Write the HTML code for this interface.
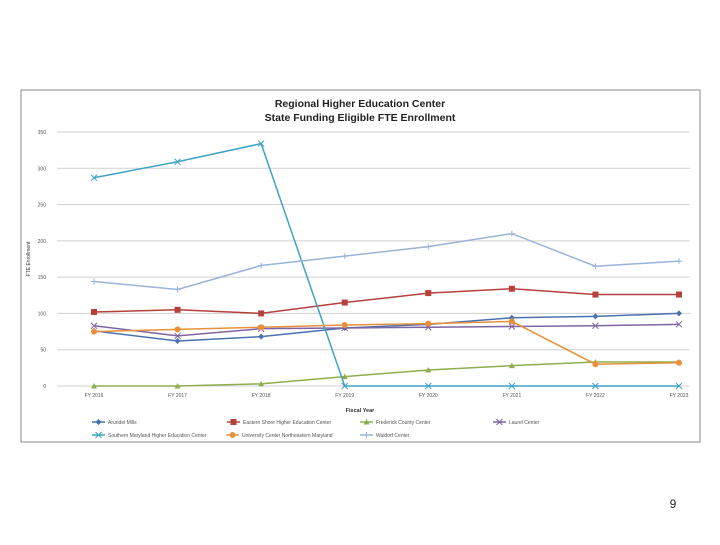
<!DOCTYPE html>
<html><head><meta charset="utf-8"><style>
body{margin:0;background:#fff;width:720px;height:540px;overflow:hidden;font-family:"Liberation Sans",sans-serif}
</style></head><body>
<svg width="720" height="540">
<rect x="21" y="90" width="679" height="352" fill="#fff" stroke="#888" stroke-width="1"/>
<text x="360" y="107" text-anchor="middle" font-size="10.5" font-weight="bold" fill="#222">Regional Higher Education Center</text>
<text x="360" y="121" text-anchor="middle" font-size="10.5" font-weight="bold" fill="#222">State Funding Eligible FTE Enrollment</text>
<text x="360" y="412" text-anchor="middle" font-size="5.5" font-weight="bold" fill="#333">Fiscal Year</text>
<text transform="translate(30,259) rotate(-90)" text-anchor="middle" font-size="5" fill="#333">FTE Enrollment</text>
<g id="grid"></g><g id="series"></g><g id="legend"></g>
<text x="673" y="508" text-anchor="middle" font-size="12" fill="#222">9</text>
</svg>
<script>
const categories=["FY 2016","FY 2017","FY 2018","FY 2019","FY 2020","FY 2021","FY 2022","FY 2023"];
const yTicks=[0,50,100,150,200,250,300,350];
const seriesNames=["Arundel Mills","Eastern Shore Higher Education Center","Frederick County Center","Laurel Center","Southern Maryland Higher Education Center","University Center Northeastern Maryland","Waldorf Center"];
const arundel=[76,62,68,80,85,94,96,100];
const easternShore=[102,105,100,115,128,134,126,126];
const frederick=[0,0,3,13,22,28,33,33];
const laurel=[83,69,79,80,81,82,83,85];
const southernMd=[287,309,334,0,0,0,0,0];
const ucnem=[75,78,81,84,86,89,30,32];
const waldorf=[144,133,166,179,192,210,165,172];
const colors=["#4a72b0","#b5403c","#8eae4e","#7e64a0","#3ea3c4","#e8913a","#98b4d8"];
const markers=["diamond","square","triangle","x","x","circle","plus"];
const data=[arundel,easternShore,frederick,laurel,southernMd,ucnem,waldorf];
const NS="http://www.w3.org/2000/svg";
const x=i=>94+i*(679-94)/(categories.length-1);
const y=v=>386-v*(386-132)/350;
function mk(tag,attrs,parent){const e=document.createElementNS(NS,tag);for(const k in attrs)e.setAttribute(k,attrs[k]);parent.appendChild(e);return e;}
const grid=document.getElementById('grid');
yTicks.forEach(t=>{
 const l=mk('line',{x1:57,x2:690,y1:y(t),y2:y(t),stroke:'#d0d0d0','stroke-width':1},grid);
 
 
 const tx=mk('text',{x:46,y:y(t)+2,'text-anchor':'end','font-size':5,fill:'#555'},grid);tx.textContent=t;
 
 
});
categories.forEach((c,i)=>{
 const tx=mk('text',{x:x(i),y:397,'text-anchor':'middle','font-size':5,fill:'#555'},grid);tx.textContent=c;
 
 
});
function marker(type,cx,cy,col,g){
 if(type==='diamond')return mk('path',{d:`M${cx} ${cy-3}L${cx+3} ${cy}L${cx} ${cy+3}L${cx-3} ${cy}Z`,fill:col},g);
 if(type==='square')return mk('rect',{x:cx-3,y:cy-3,width:6,height:6,fill:col},g);
 if(type==='triangle')return mk('path',{d:`M${cx} ${cy-3}L${cx+3} ${cy+2.5}L${cx-3} ${cy+2.5}Z`,fill:col},g);
 if(type==='circle')return mk('circle',{cx:cx,cy:cy,r:3,fill:col},g);
 if(type==='x')return mk('path',{d:`M${cx-3} ${cy-3}L${cx+3} ${cy+3}M${cx-3} ${cy+3}L${cx+3} ${cy-3}`,stroke:col,'stroke-width':1},g);
 return mk('path',{d:`M${cx-3} ${cy}L${cx+3} ${cy}M${cx} ${cy-3}L${cx} ${cy+3}`,stroke:col,'stroke-width':1},g);
}
const sg=document.getElementById('series');
data.forEach((vals,s)=>{
 const g=mk('g',{},sg);
 
 
 const p=mk('polyline',{points:vals.map((v,i)=>x(i)+','+y(v)).join(' '),fill:'none',stroke:colors[s],'stroke-width':1.5},g);
 
 
 vals.forEach((v,i)=>{const m=marker(markers[s],x(i),y(v),colors[s],g);
  
  });
});
const lg=document.getElementById('legend');
const lpos=[[92,422],[227,422],[360,422],[493,422],[92,435],[226,435],[360,435]];
seriesNames.forEach((n,s)=>{
 const [lx,ly]=lpos[s];
 const g=mk('g',{},lg);
 
 
 mk('line',{x1:lx,x2:lx+13,y1:ly,y2:ly,stroke:colors[s],'stroke-width':1.5},g);
 marker(markers[s],lx+6.5,ly,colors[s],g);
 const t=mk('text',{x:lx+16,y:ly+2,'font-size':5,fill:'#555'},g);t.textContent=n;
});
</script>
</body></html>
